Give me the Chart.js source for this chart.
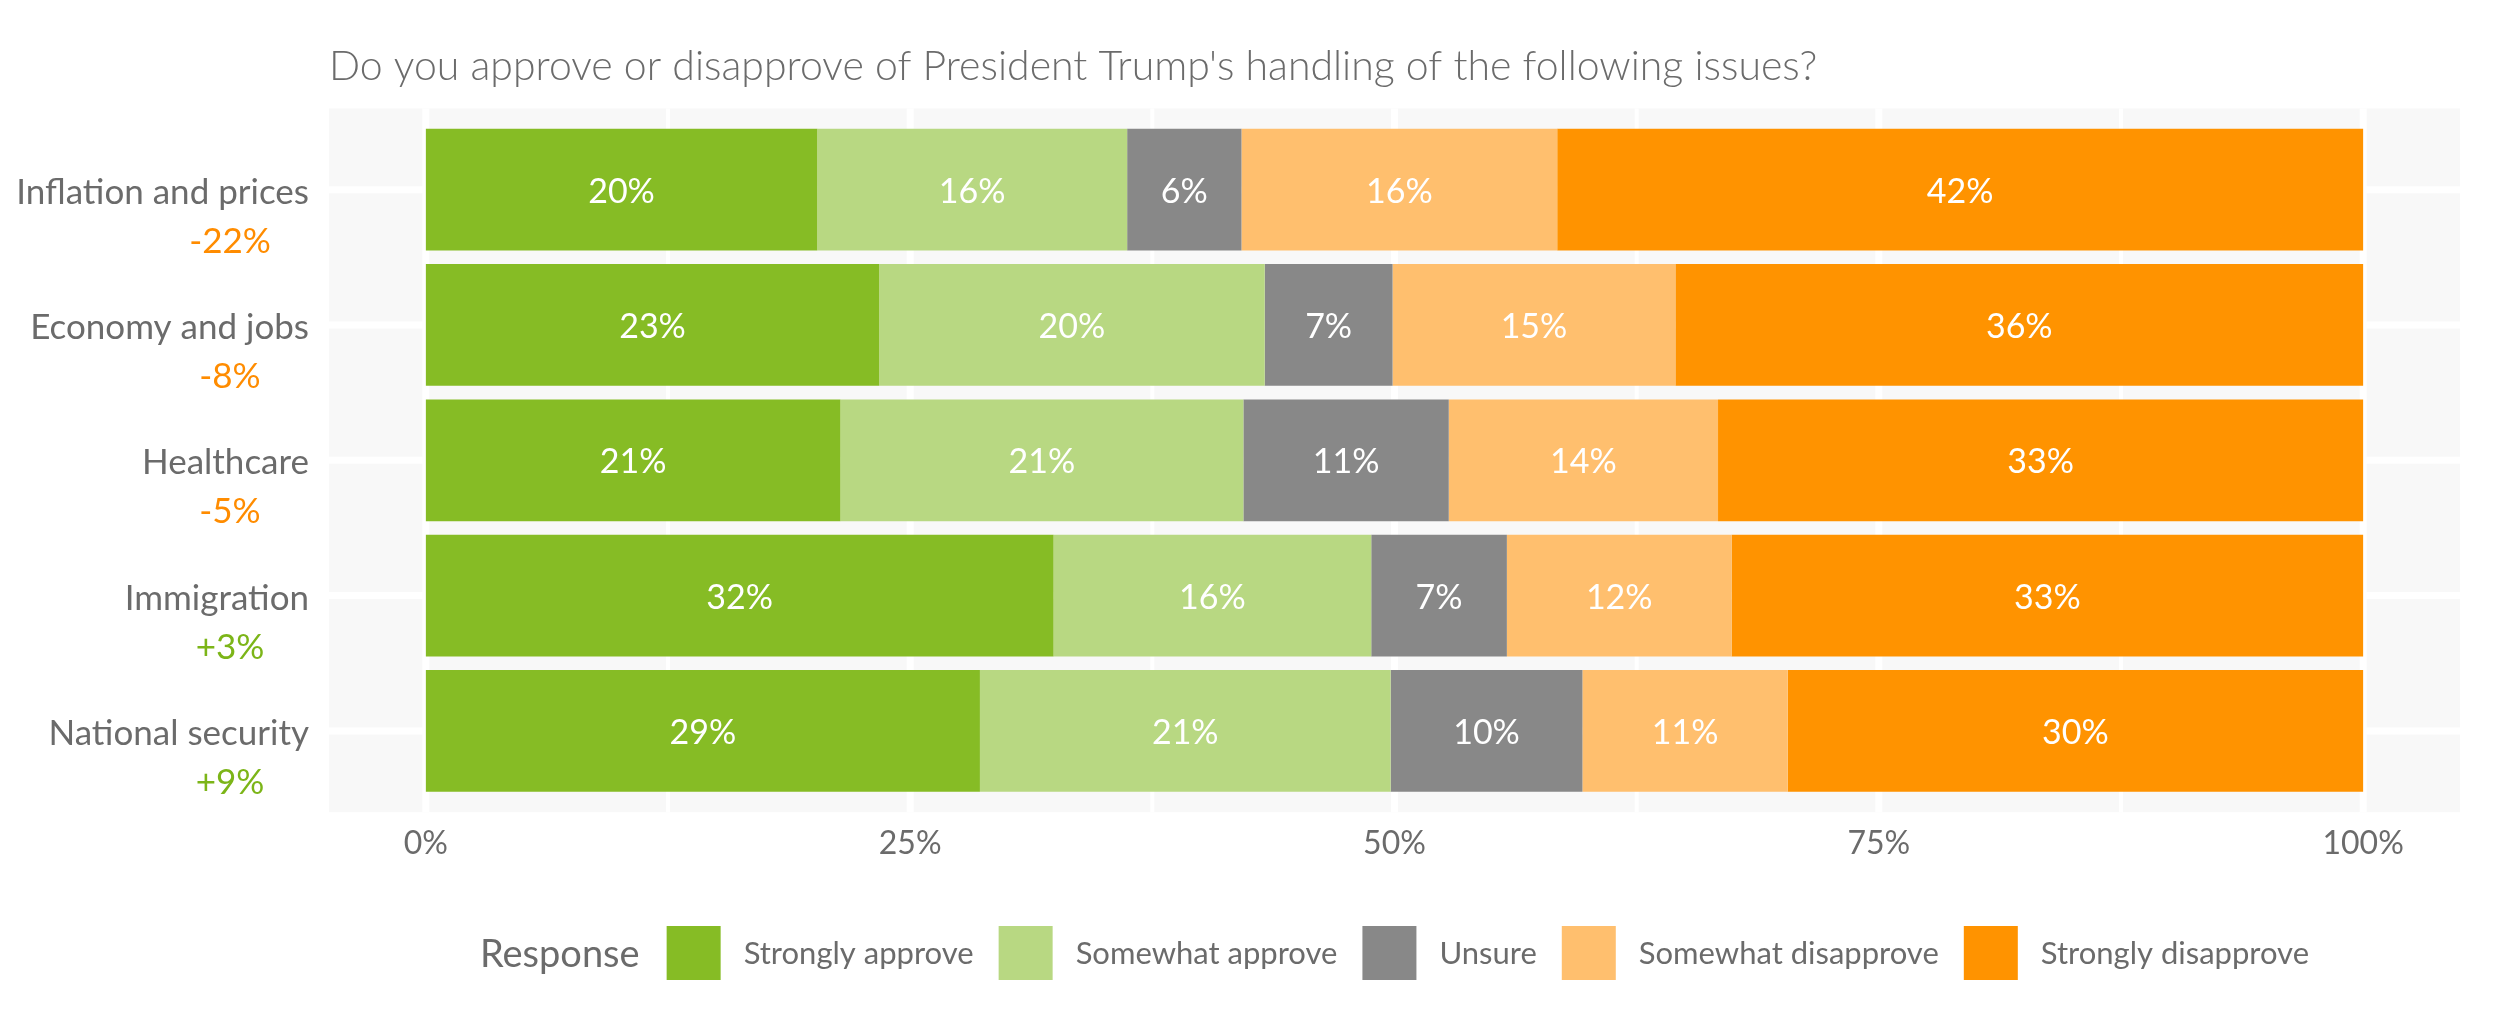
<!DOCTYPE html>
<html>
<head>
<meta charset="utf-8">
<script src="https://cdn.jsdelivr.net/npm/chart.js@4.4.1/dist/chart.umd.min.js"></script>
<style>
    html, body { margin: 0; padding: 0; background: #fff; }
</style>
</head>
<body>
<canvas id="chart" width="2500" height="1011"></canvas>
<script>
// Issues and net approval (approve minus disapprove)
const categories = ['Inflation and prices', 'Economy and jobs', 'Healthcare', 'Immigration', 'National security'];
const netApproval = [-22, -8, -5, 3, 9];

// Response shares per issue, in percent
const responses = ['Strongly approve', 'Somewhat approve', 'Unsure', 'Somewhat disapprove', 'Strongly disapprove'];
const stronglyApprove = [20.2, 23.4, 21.4, 32.4, 28.6];
const somewhatApprove = [16.0, 19.9, 20.8, 16.4, 21.2];
const unsure = [5.9, 6.6, 10.6, 7.0, 9.9];
const somewhatDisapprove = [16.3, 14.6, 13.9, 11.6, 10.6];
const stronglyDisapprove = [41.6, 35.5, 33.3, 32.6, 29.7];

const xTicks = [0, 25, 50, 75, 100];
const xMinorTicks = [12.5, 37.5, 62.5, 87.5];

const title = "Do you approve or disapprove of President Trump's handling of the following issues?";
const legendTitle = 'Response';

const responseColors = ['#86bc25', '#b8d882', '#888888', '#ffbf6e', '#ff9300'];
const textColor = '#6b6b6b';
const FONT = 'Lato, "Open Sans", sans-serif';

const seriesValues = [stronglyApprove, somewhatApprove, unsure, somewhatDisapprove, stronglyDisapprove];

// Panel background, grid lines and all extra text
const decorPlugin = {
    id: 'decor',
    beforeDatasetsDraw(chart) {
        const { ctx, chartArea, scales: { x, y } } = chart;
        const pitch = chartArea.height / categories.length;
        const top = chartArea.top - 0.1 * pitch;
        const bottom = chartArea.bottom + 0.1 * pitch;
        ctx.save();
        ctx.fillStyle = '#f8f8f8';
        ctx.fillRect(chartArea.left, top, chartArea.width, bottom - top);
        ctx.strokeStyle = '#ffffff';
        ctx.lineWidth = 4;
        xMinorTicks.forEach(v => {
            const px = x.getPixelForValue(v);
            ctx.beginPath(); ctx.moveTo(px, top); ctx.lineTo(px, bottom); ctx.stroke();
        });
        ctx.lineWidth = 7;
        xTicks.forEach(v => {
            const px = x.getPixelForValue(v);
            ctx.beginPath(); ctx.moveTo(px, top); ctx.lineTo(px, bottom); ctx.stroke();
        });
        categories.forEach((c, i) => {
            const py = y.getPixelForValue(i);
            ctx.beginPath(); ctx.moveTo(chartArea.left, py); ctx.lineTo(chartArea.right, py); ctx.stroke();
        });
        ctx.restore();
    },
    afterDatasetsDraw(chart) {
        const { ctx } = chart;
        ctx.save();
        ctx.fillStyle = '#ffffff';
        ctx.font = '34px ' + FONT;
        ctx.textAlign = 'center';
        ctx.textBaseline = 'alphabetic';
        chart.data.datasets.forEach((ds, di) => {
            chart.getDatasetMeta(di).data.forEach((bar, i) => {
                const cx = (bar.x + bar.base) / 2;
                ctx.fillText(Math.round(ds.data[i]) + '%', cx, bar.y + 13);
            });
        });
        ctx.restore();
    },
    afterDraw(chart) {
        const { ctx, chartArea, scales: { y } } = chart;
        ctx.save();
        ctx.textBaseline = 'alphabetic';

        // title
        ctx.fillStyle = textColor;
        ctx.font = '300 41px ' + FONT;
        ctx.textAlign = 'left';
        ctx.fillText(title, chartArea.left, 80);

        // category labels with net approval below
        categories.forEach((c, i) => {
            const py = y.getPixelForValue(i);
            ctx.font = '35px ' + FONT;
            ctx.fillStyle = textColor;
            ctx.textAlign = 'right';
            ctx.fillText(c, chartArea.left - 20, py + 14);
            const net = netApproval[i];
            ctx.fillStyle = net < 0 ? '#ff8c00' : '#7cb518';
            ctx.textAlign = 'center';
            ctx.fillText((net > 0 ? '+' : '') + net + '%', chartArea.left - 99, py + 63);
        });

        // legend
        const legendY = 953;
        const box = 54;
        ctx.font = '38px ' + FONT;
        const titleW = ctx.measureText(legendTitle).width;
        ctx.font = '31px ' + FONT;
        const itemWs = responses.map(r => ctx.measureText(r).width);
        let total = titleW + 27;
        itemWs.forEach((w, i) => { total += box + 23 + w + (i < itemWs.length - 1 ? 25 : 0); });
        let lx = (chartArea.left + chartArea.right) / 2 - total / 2;
        ctx.textAlign = 'left';
        ctx.fillStyle = textColor;
        ctx.font = '38px ' + FONT;
        ctx.fillText(legendTitle, lx, legendY + 14);
        lx += titleW + 27;
        ctx.font = '31px ' + FONT;
        responses.forEach((r, i) => {
            ctx.fillStyle = responseColors[i];
            ctx.fillRect(lx, legendY - box / 2, box, box);
            lx += box + 23;
            ctx.fillStyle = textColor;
            ctx.fillText(r, lx, legendY + 11);
            lx += itemWs[i] + 25;
        });
        ctx.restore();
    }
};

const ctx = document.getElementById('chart').getContext('2d');
new Chart(ctx, {
    type: 'bar',
    data: {
        labels: categories,
        datasets: responses.map((r, i) => ({
            label: r,
            data: seriesValues[i],
            backgroundColor: responseColors[i],
            borderWidth: 0,
            barPercentage: 0.9,
            categoryPercentage: 1.0
        }))
    },
    options: {
        indexAxis: 'y',
        responsive: false,
        animation: false,
        devicePixelRatio: 1,
        layout: { padding: { left: 329, right: 40, top: 122, bottom: 122 } },
        scales: {
            x: {
                stacked: true,
                min: -5,
                max: 105,
                afterBuildTicks: scale => { scale.ticks = xTicks.map(v => ({ value: v })); },
                grid: { display: false, drawTicks: false },
                border: { display: false },
                ticks: {
                    padding: 26,
                    color: textColor,
                    autoSkip: false,
                    maxRotation: 0,
                    font: { family: FONT, size: 32, weight: 400 },
                    callback: v => v + '%'
                }
            },
            y: {
                stacked: true,
                display: false,
                offset: true
            }
        },
        plugins: {
            legend: { display: false },
            tooltip: { enabled: false }
        }
    },
    plugins: [decorPlugin]
});
</script>
</body>
</html>
